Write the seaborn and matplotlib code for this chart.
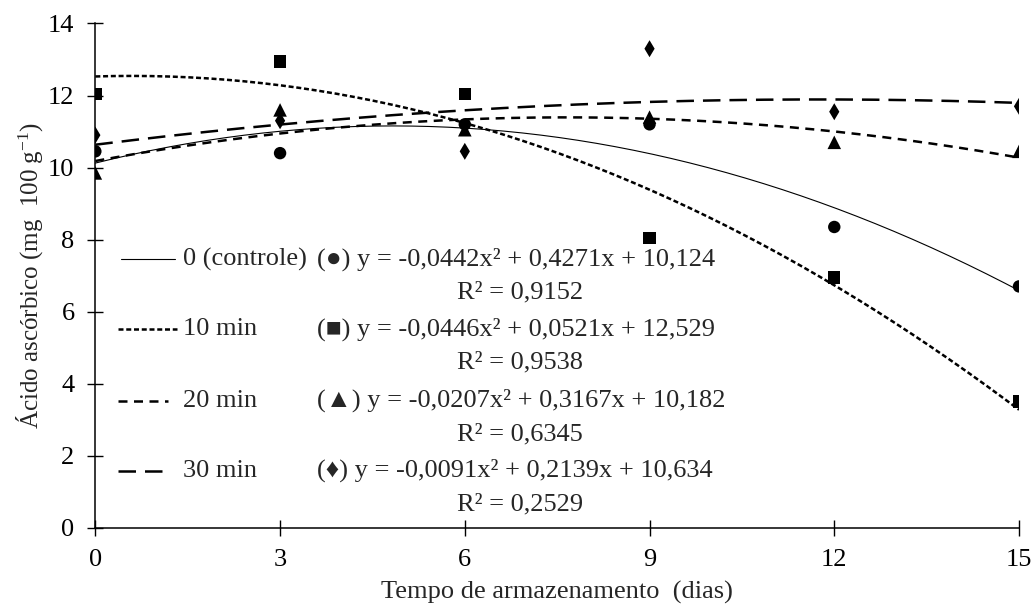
import numpy as np
import pandas as pd
import matplotlib
matplotlib.use('Agg')
import matplotlib.pyplot as plt
import seaborn as sns

# Data
dias = [0, 3, 6, 9, 12, 15]
controle = [10.45, 10.4, 11.2, 11.2, 8.35, 6.7]
min10 = [12.05, 12.95, 12.05, 8.05, 6.95, 3.5]
min20 = [9.85, 11.6, 11.05, 11.4, 10.7, 10.45]
min30 = [10.9, 11.3, 10.45, 13.3, 11.55, 11.7]

# Fitted quadratic coefficients (a, b, c) as printed on the chart
coef_controle = [-0.0442, 0.4271, 10.124]
coef_min10 = [-0.0446, 0.0521, 12.529]
coef_min20 = [-0.0207, 0.3167, 10.182]
coef_min30 = [-0.0091, 0.2139, 10.634]

rotulos = ['0 (controle)', '10 min', '20 min', '30 min']
simbolos = ['●', '■', '▲', '♦']
equacoes = ['y = -0,0442x² + 0,4271x + 10,124',
            'y = -0,0446x² + 0,0521x + 12,529',
            'y = -0,0207x² + 0,3167x + 10,182',
            'y = -0,0091x² + 0,2139x + 10,634']
r2 = ['R² = 0,9152', 'R² = 0,9538', 'R² = 0,6345', 'R² = 0,2529']

sns.set_style('ticks')
plt.rcParams['font.family'] = ['Liberation Serif', 'DejaVu Serif']
plt.rcParams['mathtext.fontset'] = 'custom'
plt.rcParams['mathtext.rm'] = 'Liberation Serif'
plt.rcParams['mathtext.it'] = 'Liberation Serif:italic'

fs = 19

fig = plt.figure(figsize=(10.34, 6.1), dpi=100)
ax = fig.add_axes([0.0922, 0.1349, 0.8933, 0.8266])

series = [controle, min10, min20, min30]
coefs = [coef_controle, coef_min10, coef_min20, coef_min30]
markers = ['o', 's', '^', 'd']
msizes = [80, 80, 95, 75]
estilos = ['-', (0, (2.0, 1.1)), (0, (3.6, 2.6)), (0, (7.0, 3.6))]
larguras = [0.8, 1.8, 1.8, 1.8]

xx = np.linspace(0, 15, 200)
for vals, cf, mk, ms, ls, lw in zip(series, coefs, markers, msizes, estilos, larguras):
    sns.lineplot(x=xx, y=np.polyval(cf, xx), ax=ax, color='black',
                 linewidth=lw, linestyle=ls)
    sns.scatterplot(x=dias, y=vals, ax=ax, color='black', marker=mk,
                    s=ms, edgecolor='none', zorder=5)

ax.set_xlim(0, 15)
ax.set_ylim(0, 14)
ax.set_xticks(dias)
ax.set_yticks(range(0, 15, 2))
ax.tick_params(direction='inout', length=12, width=1.0, labelsize=fs,
               pad=9, colors='black')
for s in ['top', 'right']:
    ax.spines[s].set_visible(False)
for s in ['left', 'bottom']:
    ax.spines[s].set_linewidth(1.1)
    ax.spines[s].set_color('black')

ax.set_xlabel('Tempo de armazenamento  (dias)', fontsize=fs)
ax.set_ylabel(r'Ácido ascórbico (mg  100 g$^{-1}$)', fontsize=18)
ax.xaxis.set_label_coords(0.5, -0.128)
ax.yaxis.set_label_coords(-0.071, 0.5)
ax.xaxis.label.set_va('center')
ax.yaxis.label.set_va('center')

# Legend block drawn inside the axes
ly = [0.533, 0.394, 0.252, 0.113]
lx = [(0.0276, 0.0867), (0.0243, 0.0882), (0.0243, 0.0786), (0.0243, 0.0786)]
for i in range(4):
    ax.plot(lx[i], [ly[i], ly[i]], transform=ax.transAxes, color='black',
            linestyle=estilos[i], linewidth=larguras[i], clip_on=False)
    ax.text(0.095, ly[i], rotulos[i], transform=ax.transAxes, fontsize=fs,
            va='center', ha='left')
    ax.text(0.240, ly[i], '(' + simbolos[i] + ') ' + equacoes[i],
            transform=ax.transAxes, fontsize=fs, va='center', ha='left')
    ax.text(0.392, ly[i] - 0.067, r2[i], transform=ax.transAxes,
            fontsize=fs, va='center', ha='left')

fig.savefig('out.png', dpi=100)
